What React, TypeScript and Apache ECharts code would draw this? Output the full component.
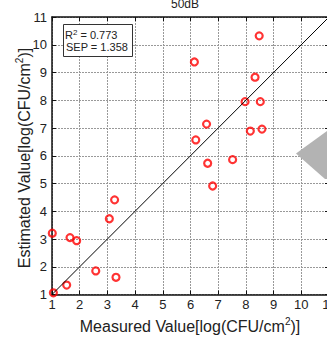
import React, { useEffect, useRef } from "react";
import * as echarts from "echarts";

const measured = [8.48, 6.14, 8.33, 7.97, 8.52, 6.58, 6.19, 8.16, 8.58, 6.62, 7.52, 6.80, 3.26, 3.07, 1.01, 1.65, 1.89, 2.58, 3.31, 1.53, 1.05];
const estimated = [10.32, 9.38, 8.83, 7.95, 7.95, 7.14, 6.57, 6.89, 6.96, 5.73, 5.86, 4.91, 4.41, 3.73, 3.21, 3.05, 2.94, 1.85, 1.62, 1.34, 1.06];
const identityLine = [[1, 1], [11, 11]];
const titleText = "50dB";
const r2Text = "0.773";
const sepText = "1.358";

const FONT = "'Liberation Sans', Arial, sans-serif";

export default function App() {
  const ref = useRef<HTMLDivElement>(null);
  useEffect(() => {
    document.body.style.margin = "0";
    const chart = echarts.init(ref.current!, undefined, { renderer: "svg" });
    const points = measured.map((m, i) => [m, estimated[i]]);
    const axisCommon = {
      type: "value" as const,
      min: 1,
      max: 11,
      interval: 1,
      axisLine: { show: true, onZero: false, lineStyle: { color: "#111", width: 1.5 } },
      axisTick: { show: true, inside: true, length: 4, lineStyle: { color: "#111" } },
    };
    chart.setOption({
      animation: false,
      backgroundColor: "#fff",
      grid: { left: 52, top: 17, width: 277, height: 277.5 },
      xAxis: [
        {
          ...axisCommon,
          position: "bottom",
          axisLabel: { fontSize: 13, color: "#222", fontFamily: FONT, margin: 3 },
          splitLine: { show: true, lineStyle: { type: [2, 1], color: "#999", width: 1 } },
        },
        {
          ...axisCommon,
          position: "top",
          axisLabel: { show: false },
          splitLine: { show: false },
        },
      ],
      yAxis: [
        {
          ...axisCommon,
          position: "left",
          axisLabel: { fontSize: 13, color: "#222", fontFamily: FONT, margin: 5 },
          splitLine: { show: true, lineStyle: { type: [2, 1], color: "#999", width: 1 } },
        },
        {
          ...axisCommon,
          position: "right",
          axisLabel: { show: false },
          splitLine: { show: false },
        },
      ],
      series: [
        {
          type: "line",
          data: identityLine,
          showSymbol: false,
          symbol: "none",
          lineStyle: { color: "#000", width: 1 },
          silent: true,
        },
        {
          type: "scatter",
          data: points,
          symbol: "circle",
          symbolSize: 7,
          itemStyle: { color: "rgba(255,255,255,0)", borderColor: "#ff0000", borderWidth: 2.2 },
        },
      ],
      graphic: [
        {
          type: "text",
          x: 185,
          y: 4,
          style: { text: titleText, fontSize: 12, fontFamily: FONT, fill: "#222", align: "center", verticalAlign: "middle" },
        },
        {
          type: "rect",
          shape: { x: 63.5, y: 24.5, width: 69, height: 32 },
          style: { fill: "#fff", stroke: "#333", lineWidth: 1 },
          z: 100,
        },
        {
          type: "text",
          x: 65,
          y: 35,
          z: 101,
          style: {
            text: "{a|R}{s|2}{a| = " + r2Text + "}",
            fill: "#222",
            align: "left",
            verticalAlign: "middle",
            rich: {
              a: { fontSize: 11, fontFamily: FONT, fill: "#222" },
              s: { fontSize: 8, fontFamily: FONT, fill: "#222", padding: [0, 0, 6, 0] },
            },
          },
        },
        {
          type: "text",
          x: 66,
          y: 47,
          z: 101,
          style: { text: "SEP = " + sepText, fontSize: 11, fontFamily: FONT, fill: "#222", align: "left", verticalAlign: "middle" },
        },
        {
          type: "text",
          x: 190,
          y: 326,
          style: {
            text: "{a|Measured Value[log(CFU/cm}{s|2}{a|)]}",
            align: "center",
            verticalAlign: "middle",
            rich: {
              a: { fontSize: 16, fontFamily: FONT, fill: "#222" },
              s: { fontSize: 10, fontFamily: FONT, fill: "#222", padding: [0, 0, 9, 0] },
            },
          },
        },
        {
          type: "text",
          x: 24,
          y: 158,
          rotation: Math.PI / 2,
          style: {
            text: "{a|Estimated Value[log(CFU/cm}{s|2}{a|)]}",
            align: "center",
            verticalAlign: "middle",
            rich: {
              a: { fontSize: 16, fontFamily: FONT, fill: "#222" },
              s: { fontSize: 10, fontFamily: FONT, fill: "#222", padding: [0, 0, 9, 0] },
            },
          },
        },
        {
          type: "polygon",
          shape: { points: [[296, 153.5], [327, 131], [327, 179], [325, 179]] },
          style: { fill: "#b3b3b3" },
          z: 100,
        },
      ],
    });
    return () => chart.dispose();
  }, []);
  return (
    <div style={{ width: 327, height: 338, overflow: "hidden", position: "relative" }}>
      <div ref={ref} style={{ width: 345, height: 338 }} />
    </div>
  );
}
